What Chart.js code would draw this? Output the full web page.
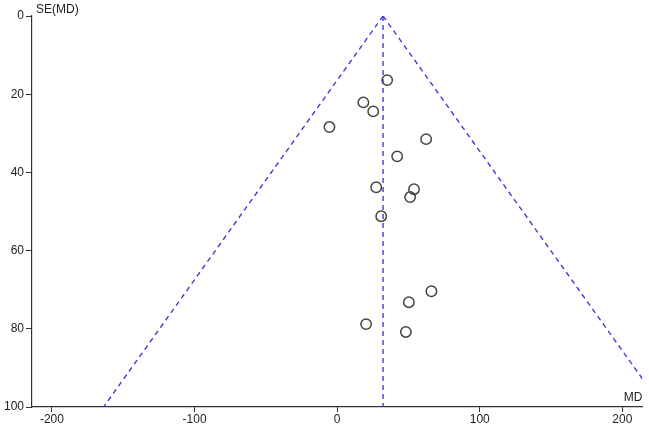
<!DOCTYPE html>
<html lang="en">
<head>
  <meta charset="UTF-8">
  <title>Funnel plot</title>
  <style>
    body { margin: 0; background: #fff; }
    .chart-container { width: 649px; height: 426px; position: relative; }
  </style>
</head>
<body>
  <div class="chart-container">
    <canvas id="funnelChart"></canvas>
  </div>

  <script src="https://cdn.jsdelivr.net/npm/chart.js"></script>
  <script>
    // Studies
    const studyMD = [35.1, 18.4, 25.3, -5.4, 62.4, 42.1, 27.4, 53.9, 51.2, 30.9, 66.1, 50.3, 20.3, 48.2];
    const studySE = [16.4, 22.1, 24.4, 28.4, 31.5, 35.9, 43.8, 44.3, 46.3, 51.2, 70.4, 73.2, 78.8, 80.8];

    // Pooled line and funnel limits (end points)
    const pooledMD = [32.2, 32.2];
    const pooledSE = [0, 100];
    const leftLimitMD = [32.2, -163.8];
    const rightLimitMD = [32.2, 228.2];
    const limitSE = [0, 100];

    const xTicks = [-200, -100, 0, 100, 200];
    const yTicks = [0, 20, 40, 60, 80, 100];

    const toPoints = (xs, ys) => xs.map((x, i) => ({ x: x, y: ys[i] }));

    const axisColor = '#333';
    const lineBlue = '#3c3cd6';
    const font = { family: 'Liberation Sans, Arial, sans-serif', size: 12 };

    // axis titles drawn like the original (at the ends of the axes)
    const axisTitles = {
      id: 'axisTitles',
      afterDraw(chart) {
        const c = chart.ctx;
        const area = chart.chartArea;
        c.save();
        c.fillStyle = '#222';
        c.font = '12px Liberation Sans, Arial, sans-serif';
        c.textBaseline = 'alphabetic';
        c.textAlign = 'left';
        c.fillText('SE(MD)', area.left + 4, 13);
        c.textAlign = 'right';
        c.fillText('MD', area.right, area.bottom - 6);
        c.restore();
      }
    };

    const lineSet = (data) => ({
      type: 'line',
      data: data,
      borderColor: lineBlue,
      borderWidth: 1.4,
      borderDash: [5, 4],
      pointRadius: 0,
      fill: false,
      showLine: true
    });

    new Chart(document.getElementById('funnelChart'), {
      type: 'scatter',
      data: {
        datasets: [
          lineSet(toPoints(leftLimitMD, limitSE)),
          lineSet(toPoints(rightLimitMD, limitSE)),
          lineSet(toPoints(pooledMD, pooledSE)),
          {
            label: 'Studies',
            data: toPoints(studyMD, studySE),
            pointRadius: 5.2,
            pointBorderWidth: 1.5,
            pointBorderColor: '#444',
            pointBackgroundColor: 'rgba(0,0,0,0)',
            showLine: false
          }
        ]
      },
      options: {
        responsive: true,
        maintainAspectRatio: false,
        animation: false,
        layout: { padding: { top: 16, right: 2, left: 0, bottom: 0 } },
        plugins: {
          legend: { display: false },
          tooltip: { enabled: false }
        },
        scales: {
          x: {
            type: 'linear',
            min: -214,
            max: 214,
            afterBuildTicks: (s) => { s.ticks = xTicks.map(v => ({ value: v })); },
            afterFit: (s) => { s.height = 19; s.paddingLeft = 0; s.paddingRight = 0; },
            ticks: { color: '#222', font: font, padding: 0, maxRotation: 0 },
            grid: { drawOnChartArea: false, drawTicks: true, tickLength: 5, color: axisColor },
            border: { display: true, color: axisColor, width: 1.2 }
          },
          y: {
            type: 'linear',
            reverse: true,
            min: 0,
            max: 100,
            afterBuildTicks: (s) => { s.ticks = yTicks.map(v => ({ value: v })); },
            afterFit: (s) => { s.width = 32; },
            ticks: { color: '#222', font: font, padding: 2 },
            grid: { drawOnChartArea: false, drawTicks: true, tickLength: 6, color: axisColor },
            border: { display: true, color: axisColor, width: 1.2 }
          }
        }
      },
      plugins: [axisTitles]
    });
  </script>
</body>
</html>
